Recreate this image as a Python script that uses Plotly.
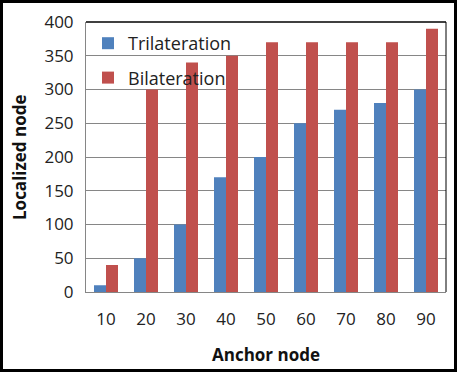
import plotly.graph_objects as go

categories = ["10", "20", "30", "40", "50", "60", "70", "80", "90"]
trilateration = [10, 50, 100, 170, 200, 250, 270, 280, 300]
bilateration = [40, 300, 340, 350, 370, 370, 370, 370, 390]

W, H = 458, 373
L, R, T, B = 86, 12, 22, 81
pw, ph = W - L - R, H - T - B

def px(x):
    return (x - L) / pw

def py(y):
    return (H - B - y) / ph

fig = go.Figure()
fig.add_trace(go.Bar(x=categories, y=trilateration, name="Trilateration", legendgroup="a",
                     marker=dict(color="#4F81BD", line=dict(width=0))))
fig.add_trace(go.Bar(x=categories, y=bilateration, name="Bilateration", legendgroup="b",
                     marker=dict(color="#C0504D", line=dict(width=0))))

font = "Open Sans"
fig.update_layout(
    width=W, height=H,
    margin=dict(l=L, r=R, t=T, b=B, autoexpand=False),
    paper_bgcolor="white", plot_bgcolor="white",
    barmode="group", bargap=0.4, bargroupgap=0,
    font=dict(family=font, size=17, color="#222"),
    legend=dict(x=px(88), y=py(25), xanchor="left", yanchor="top",
                bgcolor="rgba(0,0,0,0)", font=dict(size=18, color="#222"),
                itemwidth=30, tracegroupgap=8),
    xaxis=dict(
        automargin=False,
        showline=True, linecolor="#868686", linewidth=1,
        ticks="", tickfont=dict(size=17, color="#222"), ticklabelstandoff=12,
    ),
    yaxis=dict(
        automargin=False,
        range=[0, 400], dtick=50, showgrid=True, gridcolor="#868686", gridwidth=1,
        showline=True, linecolor="#868686", linewidth=1,
        ticks="", tickfont=dict(size=17, color="#222"), ticklabelstandoff=8,
        zeroline=False,
    ),
    annotations=[
        dict(text="<b>Anchor node</b>", xref="paper", yref="paper",
             x=0.5, y=py(354), xanchor="center", yanchor="middle", showarrow=False,
             font=dict(size=17, color="#111")),
        dict(text="<b>Localized node</b>", xref="paper", yref="paper",
             x=px(19), y=py(157), xanchor="center", yanchor="middle", showarrow=False,
             textangle=-90, font=dict(size=17, color="#111")),
    ],
    shapes=[
        dict(type="line", xref="paper", yref="paper", x0=0, x1=1, y0=1, y1=1,
             line=dict(color="black", width=1.5)),
        dict(type="line", xref="paper", yref="paper", x0=1, x1=1, y0=0, y1=1,
             line=dict(color="black", width=1)),
        dict(type="rect", xref="paper", yref="paper",
             x0=px(1.5), x1=px(455.5), y0=py(1.5), y1=py(370.5),
             line=dict(color="black", width=3)),
    ],
)

fig.write_html("out.html", config={"displayModeBar": False},
               post_script="document.body.style.margin='0';document.body.style.padding='0';")
